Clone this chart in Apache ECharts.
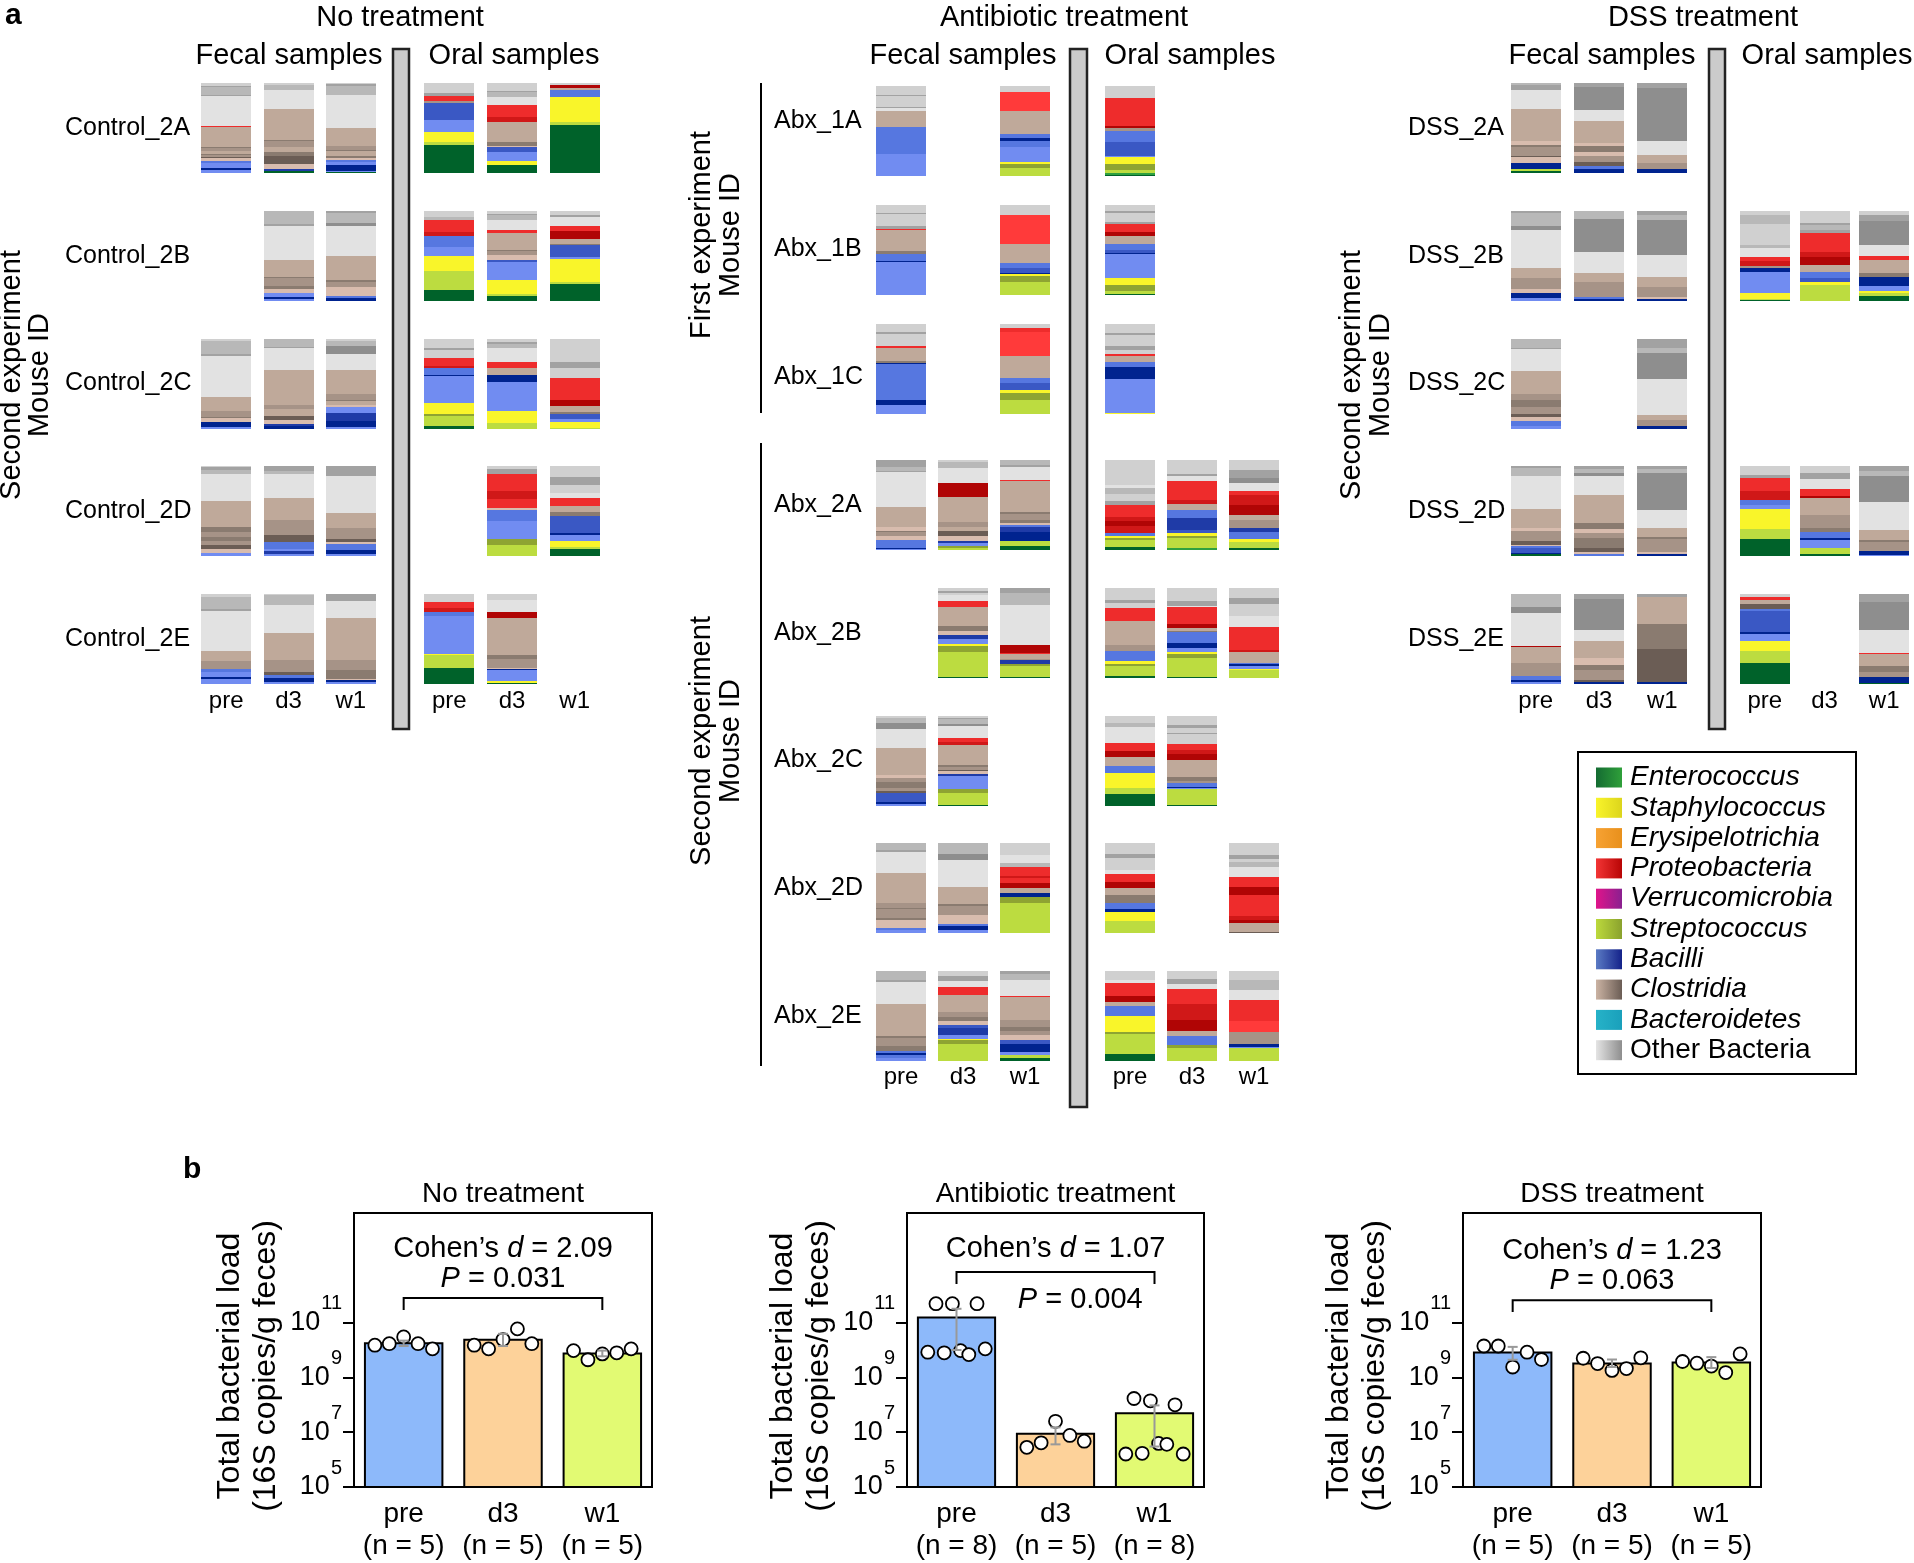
<!DOCTYPE html>
<html>
<head>
<meta charset="utf-8">
<script src="https://cdn.jsdelivr.net/npm/echarts@6/dist/echarts.min.js"></script>
<style>
  html, body { margin: 0; padding: 0; background: #fff; }
  #chart { width: 1914px; height: 1563px; }
</style>
</head>
<body>
<div id="chart"></div>
<script>
// ---- panel a: relative abundance per sample, bands listed top -> bottom (taxon+shade : percent) ----
const timepoints = ['pre', 'd3', 'w1'];

const controlMice = ['Control_2A', 'Control_2B', 'Control_2C', 'Control_2D', 'Control_2E'];
const controlFecal = [
  ['O1:3 O3:1.5 O2:8.5 O3:1 O0:33 P0:1 C1:22 C3:1.5 C2:3 C1:3 C3:1 C2:2 C4:2 C0:3 B1:2 B0:5 B4:3 B0:3',
   'O1:2 O2:5.5 O0:21 C1:34 C3:1 C2:6 C1:6 C3:4.5 C4:9 C0:5.5 B3:2 E0:2',
   'O1:1 O3:2 O2:10 O0:37 C1:20 C2:4.5 C3:1 C1:5 C3:2 C0:3 B1:2 B0:3 B4:7 B0:1 E0:1'],
  [null,
   'O2:14 O3:2 O0:38 C1:19 C3:1 C2:9 C3:3 C0:4.5 B0:4.5 B4:2 B0:2',
   'O3:2 O2:11 O4:3 O0:33 C1:26 C3:2 C2:6 C0:9.5 B1:2 B4:3.5'],
  ['O1:2 O2:15 O3:2 O0:45.5 C1:15.5 C2:6 C3:1 C0:5 B4:5.5 B0:2',
   'O2:9 O3:1 O0:24.5 C1:39 C2:4.5 C1:8 C4:4.5 C0:4.5 B3:2 B4:3.5',
   'O1:2 O2:5.5 O4:9 O0:18 C1:26.5 C2:6 C3:2 C1:3.5 C0:3 B0:6.5 B3:9 B4:6.5 B0:2'],
  ['O1:1 O3:3.5 O2:4 O0:30 C1:29 C3:5.5 C2:5.5 C3:4.5 C2:4.5 C4:4.5 C0:4.5 B0:3',
   'O3:5.5 O2:3.5 O0:26.5 C1:24.5 C2:16.5 C4:8 B1:8 B0:2 B3:3.5 B0:2',
   'O3:11 O0:41 C1:17 C2:12 C4:3.5 C0:2 B1:6.5 B4:4.5 B0:2'],
  ['O1:3.3 O2:13 O3:2 O0:44.5 C1:11 C2:9 B1:3.5 B0:5.5 B4:2 B0:5.5',
   'O1:1 O2:11 O0:31 C1:30 C2:13.5 C4:3.5 B1:3.5 B4:4.5 B0:2',
   'O3:8 O0:18 C1:46.5 C2:11 C3:10 C0:2 B4:2 B0:2']
];
const controlOral = [
  ['O1:11 O3:3 P0:5.5 C2:2 B2:19 B0:13 S0:11 T0:3.5 E0:31',
   'O1:9 O3:1 O2:5 O0:9 P0:13 P1:5.5 C1:22 C3:4.5 C0:1.5 B2:5 B0:10 S0:4.5 E0:9',
   'O1:2 P2:3.5 C1:2.5 B1:8 S0:27 T0:3.5 E0:53'],
  ['O1:6.5 O2:3 P0:13.5 P1:4.5 B1:12 B0:10 S0:16.5 T0:21 E0:12',
   'O1:3 O3:1 O2:5.5 O0:11 P0:3.5 C1:19 C3:1.5 C2:4 C0:5.5 B2:2 B0:20 S0:15.5 T0:2 E0:5.5',
   'O1:4.5 O3:2 O0:10 P0:5 P2:9 C1:5.5 C3:1 B2:13 B0:2 S0:25.5 T0:2 E0:19'],
  ['O1:10 O3:2 O1:9 P0:9 P1:2 B1:8 B4:1 B0:29 S0:13 T1:2 T0:11 E0:3',
   'O1:3 O3:2.5 O2:5 O0:14.5 P0:7.5 C1:7 B4:8 B0:32 S0:13.5 T0:6.5',
   'O1:25.5 O3:6.5 O1:11 P0:24.5 P2:6.5 C1:6.5 C3:1.5 B2:5.5 B4:1 B0:3 S0:6.5 T0:1'],
  [null,
   'O1:3.5 O3:5.5 P0:19 P1:8 P0:10.5 C0:2 B1:12 B0:20 T1:6.5 T0:12',
   'O1:12 O3:9 O1:9 O0:5.5 P0:9 C1:6.5 C3:4.5 B2:19 B4:2 B0:6.5 S0:6.5 T0:2 E0:8'],
  ['O1:9 P0:6.5 P1:4.5 B1:4.5 B0:42 S0:1 T0:14.5 E0:18',
   'O1:6.5 O0:13.5 P2:6.5 C1:41 C3:4.5 C2:9 C0:2 B4:1 B0:12 S0:2 E0:1',
   null]
];

const abxFirstMice = ['Abx_1A', 'Abx_1B', 'Abx_1C'];
const abxFirstFecal = [
  ['O1:10 O3:1 O1:12 O3:1.5 O0:3.5 C1:17 B1:30 B0:25', null,
   'O1:6.5 P3:21 C1:26 B1:3.5 B4:3.5 B1:6.5 B0:17 S0:2 T1:4.5 T0:9'],
  ['O1:8.5 O3:1 O1:13.5 O3:3 P0:1 C1:22.5 C3:3 B1:8 B4:1 B0:35.5', null,
   'O1:11 P3:32.5 C1:21 B1:5.5 B2:5 B4:1 S0:2.5 T1:6.5 T0:14.5'],
  ['O1:9 O3:2 O1:13.5 P0:2 C1:14 C3:3 B4:1 B1:40 B4:5 B0:10', null,
   'O1:4.5 P0:4.5 P3:26 C1:25 B1:5.5 B2:7 S0:3.5 T1:8 T0:15.5']
];
const abxFirstOral = [
  ['O1:13.5 P0:30 P2:3 C2:2.5 B1:12.5 B2:15.5 B0:1 S0:8 T1:6.5 T0:3.5 E1:2 E0:1', null, null],
  ['O1:6.5 O3:2 O1:10 O3:2 P0:9 P2:4.5 C1:9 B1:6.5 B2:3.5 B4:1 B0:26.5 S0:8 T1:6.5 T0:3.5 E0:1', null, null],
  ['O1:10 O3:2 O1:12.5 O3:4.5 O1:4.5 P0:2 C1:7 B1:5.5 B4:12.5 B0:38 S0:1', null, null]
];

const abxSecondMice = ['Abx_2A', 'Abx_2B', 'Abx_2C', 'Abx_2D', 'Abx_2E'];
const abxSecondFecal = [
  ['O3:7.5 O2:5 O3:1 O0:38 C1:22.5 C0:4.5 C3:1.5 C2:4 C0:4.5 B1:9 B4:1 B0:1',
   'O1:2 O2:6.5 O0:17 P2:14.5 C1:28 C2:5.5 C1:4.5 C4:5.5 C0:5.5 B3:2 B0:3.5 T1:2 T0:2',
   'O2:5.5 O3:1.5 O0:14.5 P0:1 C1:33.5 C3:2 C2:6.5 C3:3.5 C0:2 B1:2 B3:5.5 B4:9 T0:5.5 E0:4.5'],
  [null,
   'O1:3.5 O3:2 O1:2 O0:6.5 P0:6.5 C1:21 C3:5.5 C0:4.5 B3:4.5 B0:5.5 S0:2 T1:6.5 T0:28 E0:1',
   'O3:5.5 O2:13.5 O0:44.5 P2:8 P0:2 C1:4.5 C2:2 B3:4.5 T1:2 T0:12 E0:1'],
  ['O1:2 O2:6 O4:6.5 O0:21 C1:30 C0:3 C2:5 C3:6.5 C2:3 C4:3 B2:10 B4:2 B0:2',
   'O1:2 O3:1 O2:5.5 O4:2 O0:13.5 P0:4.5 P1:3.5 C1:22 C3:2 C2:3.5 C4:1 C0:3.5 B3:2 B0:14.5 T1:4.5 T0:13 E0:1',
   null],
  ['O2:8 O3:2 O0:23.5 C1:32.5 C2:5.5 C3:1 C2:10 C3:2 C0:9 B1:2 B0:3.5',
   'O2:12 O4:6.5 O0:30 C1:18 C3:2 C2:10.5 C0:9.5 B1:2 B4:4.5 B0:3.5',
   'O1:13.5 O0:9 O2:3.5 P0:10 P1:2 P0:6.5 P2:4.5 C1:5.5 B4:4.5 T1:6.5 T0:33.5'],
  ['O2:10 O3:2 O0:24.5 C1:34.5 C3:2 C2:9 C3:5.5 B1:2 B4:2 B1:3.5 B0:3.5',
   'O1:5.5 O3:5.5 O0:6.5 P0:9 C1:19 C2:5.5 C3:4.5 C0:3.5 B2:3.5 B3:7.5 B0:4.5 S0:1 T1:4.5 T0:19',
   'O3:3.5 O2:6.5 O0:18 P0:1 C1:25.5 C2:8.5 C3:3.5 C2:5.5 C0:5.5 B2:4.5 B4:8 B0:3.5 T0:3.5 E0:3.5']
];
const abxSecondOral = [
  ['O1:28 O0:3.5 O2:6.5 O1:8 O3:3.5 P0:13.5 P1:4.5 P2:5.5 P1:8 B1:3.5 S0:2 T1:2 T0:8 E0:3.5',
   'O1:15.5 O3:2 O0:5.5 P0:21.5 P1:3.5 C1:6.5 B1:9 B3:13.5 B2:3.5 S0:3.5 T1:2 T0:11 E1:2',
   'O1:11 O3:9 O4:5.5 O0:9 P0:4.5 P1:10 P2:11 C1:6.5 C2:8 B3:4.5 B1:8 S0:3.5 T0:6.5 E0:2'],
  ['O1:13.5 O3:3.5 O1:5.5 P0:14.5 C1:26.5 C2:6.5 B1:11 S0:3.5 T1:2 T0:11 E0:2',
   'O1:14.5 O3:5.5 O0:1 P0:18 P2:4.5 C1:3.5 C3:1 B1:12 B4:5.5 B0:4.5 S0:2 T1:4.5 T0:21 E0:1',
   'O1:11 O3:6.5 O1:13.5 O0:11 P0:25.5 P1:2 C1:12 B1:1 B4:2.5 B0:3 S0:1 T0:9'],
  ['O1:7.5 O2:4.5 O0:18 P0:9 P2:6.5 C1:10 B1:7.5 S0:16.5 T0:6.5 E0:13',
   'O1:10 O3:3.5 O1:5.5 O3:1 O1:11 P0:6.5 P1:4.5 P2:6.5 C1:19 C3:4.5 C2:2 B1:4.5 B4:1 B0:2 T0:17.5 E0:1',
   null],
  ['O1:12 O3:4.5 O1:13.5 O0:4.5 P0:9 P2:6.5 C1:8 C3:8 B1:6.5 B4:3.5 S0:10 T0:13.5',
   null,
   'O1:13.5 O3:4.5 O1:3.5 O2:4.5 O0:12 P0:11 P2:9 P0:22.5 P1:4.5 P2:3.5 C1:10 C4:1'],
  ['O1:10 O0:3.5 P0:14.5 P2:6.5 C1:4.5 B1:11 S0:17.5 T1:2 T0:21.5 E0:8',
   'O1:9 O3:5.5 O0:5.5 P0:17 P1:17 P2:12 C1:6 B1:10 T1:3.5 T0:14',
   'O1:10 O2:11 O0:11 P0:22.5 P3:13 C2:13 B4:3 B0:1.5 T0:14']
];

const dssMice = ['DSS_2A', 'DSS_2B', 'DSS_2C', 'DSS_2D', 'DSS_2E'];
const dssFecal = [
  ['O2:2 O3:5.5 O0:21 C1:34.5 C0:4.5 C3:3 C2:9 C4:2 C0:6.5 B4:6.5 T0:2 E0:2',
   'O3:4.5 O4:25.5 O0:12 C1:25 C0:3 C3:6.5 C0:4.5 C2:6.5 C4:4.5 B1:3.5 B4:4.5',
   'O3:5.5 O4:59 O0:15.5 C1:9 C2:6.5 B4:4.5'],
  ['O3:2 O2:14.5 O4:4.5 O0:42 C1:11 C2:12 C0:4.5 B4:5.5 B0:3.5',
   'O2:9 O4:36.5 O0:23.5 C1:10 C2:16.5 B1:2 B4:2',
   'O3:4.5 O2:5.5 O4:39 O0:24.5 C1:11 C2:11 C0:2 B4:2.5'],
  ['O2:10 O3:1 O0:24.5 C1:26 C2:6.5 C3:8 C2:8 C4:3.5 C0:4.5 B1:5.5 B0:3',
   null,
   'O3:10 O2:5.5 O4:29 O0:40 C1:5.5 C2:6.5 B4:3'],
  ['O3:2 O2:9 O0:36.5 C1:21 C0:3.5 C2:11 C4:3.5 C0:2 B1:2 B2:5.5 B4:1 E0:2',
   'O3:3.5 O2:4.5 O4:3.5 O0:21 C1:31 C3:6.5 C0:4.5 C2:5.5 C3:11 C4:4.5 C0:2 B1:2',
   'O3:3.5 O2:4.5 O4:41 O0:19 C1:11 C3:2 C2:14.5 C0:2 B4:2'],
  ['O2:14.5 O4:6.5 O0:36.5 P2:1 C1:17.5 C2:14.5 B1:4.5 B4:2 B0:2',
   'O3:5.5 O4:34.5 O0:12 C1:19 C0:8 C3:5.5 C2:11 C4:2 B4:2',
   'O3:3.5 C1:30 C3:28 C4:37 B4:2']
];
const dssOral = [
  [null, null, null],
  ['O1:4.5 O2:10 O1:23.5 O2:3.5 O0:10 P0:4.5 P1:5.5 C2:2 B4:4.5 B0:23.5 S0:6.5 T0:1 E0:1',
   'O1:13.5 O3:2 O2:5.5 O3:3.5 P0:21 P1:5.5 P2:9 C1:8 B1:6.5 B2:4.5 S0:3.5 T0:18',
   'O1:4.5 O3:6.5 O4:27 O0:12 P0:4.5 C1:14.5 C3:4.5 B4:10 B0:5.5 S0:2 T0:3.5 E0:5.5'],
  [null, null, null],
  ['O1:10 O3:3.5 P0:14.5 P1:10 B1:5.5 B0:4.5 S0:22 T0:11 E0:19',
   'O1:8 O3:6.5 O0:11 P0:8 P2:2 C1:19 C2:13.5 C3:5.5 B1:6.5 B4:2 B0:9 T0:6.5 E0:2',
   'O3:5.5 O2:5.5 O4:29 O0:31 C1:11 C3:2 C2:10 B4:4.5 B0:1'],
  ['O1:3.5 P0:3.5 C1:4.5 C4:5.5 B1:2 B2:23.5 B4:2 B0:8 S0:11 T0:13.5 E0:23.5',
   null,
   'O3:9 O4:31 O0:25.5 P0:1 C1:13.5 C3:6.5 C2:5.5 B4:6.5 E0:1']
];

const legendTaxa = ['Enterococcus', 'Staphylococcus', 'Erysipelotrichia', 'Proteobacteria',
  'Verrucomicrobia', 'Streptococcus', 'Bacilli', 'Clostridia', 'Bacteroidetes', 'Other Bacteria'];

// ---- panel b: total bacterial load (16S copies / g feces) ----
const loadGroups = ['No treatment', 'Antibiotic treatment', 'DSS treatment'];
const loadCategories = [
  ['pre\n(n = 5)', 'd3\n(n = 5)', 'w1\n(n = 5)'],
  ['pre\n(n = 8)', 'd3\n(n = 5)', 'w1\n(n = 8)'],
  ['pre\n(n = 5)', 'd3\n(n = 5)', 'w1\n(n = 5)']
];
const loadMeans = [
  [1.9e10, 2.6e10, 8.1e9],
  [1.66e11, 9.5e6, 5.4e7],
  [8.9e9, 3.5e9, 3.8e9]
];
const loadPoints = [
  [[1.5e10, 1.7e10, 3.0e10, 1.7e10, 1.1e10],
   [1.5e10, 1.1e10, 2.4e10, 5.9e10, 1.7e10],
   [9.5e9, 4.4e9, 7.2e9, 7.9e9, 1.1e10]],
  [[8.3e9, 4.9e11, 7.9e9, 4.9e11, 9.5e9, 6.8e9, 4.9e11, 1.1e10],
   [2.8e6, 4.1e6, 2.5e7, 7.6e6, 4.7e6],
   [1.6e6, 1.7e8, 1.7e6, 1.4e8, 3.9e6, 3.6e6, 1.0e8, 1.6e6]],
  [[1.4e10, 1.4e10, 2.4e9, 8.3e9, 4.5e9],
   [5.0e9, 3.2e9, 1.8e9, 2.1e9, 5.2e9],
   [3.8e9, 3.3e9, 2.6e9, 1.5e9, 7.2e9]]
];
const loadErrLow = [
  [1.4e10, 1.4e10, 5.9e9],
  [1.0e10, 3.6e6, 3.0e6],
  [4.4e9, 2.4e9, 2.2e9]
];
const loadErrHigh = [
  [2.2e10, 3.9e10, 9.5e9],
  [3.2e11, 1.5e7, 9.5e7],
  [1.3e10, 4.5e9, 5.5e9]
];
const cohensD = ['2.09', '1.07', '1.23'];
const pValues = ['0.031', '0.004', '0.063'];

// ---- styles ----
const FONT = '"Liberation Sans", Arial, Helvetica, sans-serif';
const SHADE = {
  O0: '#e2e2e2', O1: '#d0d0d0', O2: '#b8b8b8', O3: '#a2a2a2', O4: '#8e8e8e',
  C0: '#d8bcae', C1: '#bfa99a', C2: '#a69387', C3: '#8a7b70', C4: '#6b5d55',
  B0: '#718cf1', B1: '#5677e0', B2: '#3a58c4', B3: '#1f3ba7', B4: '#00238f',
  P0: '#ee2c2c', P1: '#d01818', P2: '#b00505', P3: '#ff3a3a',
  S0: '#f9f52a', T0: '#bcdc40', T1: '#8ea432', E0: '#00622a', E1: '#2ea040'
};
const LEGEND_GRAD = [
  ['#146b32', '#2fa03a'], ['#f9f42a', '#dcd51c'], ['#f7a233', '#e8901c'], ['#f33535', '#b80505'],
  ['#e0148a', '#8a2090'], ['#bcd93c', '#8aa22e'], ['#5b7bc4', '#14228a'], ['#cbb3a3', '#6b5d55'],
  ['#26b2c8', '#1aa0bb'], ['#e4e4e4', '#8e8e8e']
];
const BAR_COLORS = ['#8db9fa', '#fdd29a', '#e2fa73'];

function parseBands(s) {
  return s.trim().split(/\s+/).map(t => { const p = t.split(':'); return [p[0], +p[1]]; });
}

const grids = [];
const xAxes = [];
const yAxes = [];
const series = [];

// one grid per group half; each sample drawn as a 50x90 stacked column centred on its cell
function stackPanel(box, mice, table, opts) {
  const gi = grids.length;
  grids.push({ left: box[0], top: box[1], width: box[2], height: box[3] });
  xAxes.push({
    type: 'category', gridIndex: gi, data: timepoints,
    axisLine: { show: false }, axisTick: { show: false },
    axisLabel: { show: !!opts.xLabels, interval: 0, margin: opts.xMargin || 0, fontSize: 24, fontFamily: FONT, color: '#000' }
  });
  const shifts = opts.labelShift || [];
  const rich = {};
  mice.forEach((m, i) => {
    const s = shifts[i] || 0;
    rich['r' + i] = { fontSize: 25, fontFamily: FONT, color: '#000', padding: s < 0 ? [0, 0, -2 * s, 0] : [2 * s, 0, 0, 0] };
  });
  yAxes.push({
    type: 'category', gridIndex: gi, data: mice, inverse: true,
    axisLine: { show: false }, axisTick: { show: false },
    axisLabel: { show: !!opts.yLabels, interval: 0, align: 'left', margin: opts.yMargin || 0,
      formatter: (v, i) => '{r' + i + '|' + v + '}', rich }
  });
  const items = [];
  table.forEach((row, r) => row.forEach((s, c) => { if (s) items.push({ c, r, bands: parseBands(s) }); }));
  series.push({
    type: 'custom', xAxisIndex: gi, yAxisIndex: gi,
    data: items.map(d => [d.c, d.r]),
    renderItem: (params, api) => {
      const item = items[params.dataIndex];
      const ctr = api.coord([api.value(0), api.value(1)]);
      const w = 50, h = 90;
      const x0 = Math.round(ctr[0] - w / 2), y0 = Math.round(ctr[1] - h / 2);
      const total = item.bands.reduce((a, b) => a + b[1], 0);
      let acc = 0;
      const children = [];
      item.bands.forEach(([k, v]) => {
        const ya = y0 + Math.round(acc / total * h);
        acc += v;
        const yb = y0 + Math.round(acc / total * h);
        if (yb > ya) children.push({ type: 'rect', shape: { x: x0, y: ya, width: w, height: yb - ya }, style: { fill: SHADE[k] } });
      });
      return { type: 'group', children };
    }
  });
}

stackPanel([195, 64, 187, 639], controlMice, controlFecal, { yLabels: true, yMargin: 130, xLabels: true, xMargin: -14 });
stackPanel([418, 64, 188, 639], controlMice, controlOral, { xLabels: true, xMargin: -14 });
stackPanel([870, 71.5, 186, 357], abxFirstMice, abxFirstFecal, { yLabels: true, yMargin: 96, labelShift: [-10, -1, 8] });
stackPanel([1099, 71.5, 186, 357], abxFirstMice, abxFirstOral, {});
stackPanel([870, 441, 186, 639], abxSecondMice, abxSecondFecal, { yLabels: true, yMargin: 96, xLabels: true, xMargin: -15 });
stackPanel([1099, 441, 186, 639], abxSecondMice, abxSecondOral, { xLabels: true, xMargin: -15 });
stackPanel([1504, 64, 190, 639], dssMice, dssFecal, { yLabels: true, yMargin: 96, xLabels: true, xMargin: -14 });
stackPanel([1735, 64, 186, 639], dssMice, dssOral, { xLabels: true, xMargin: -14 });

// ---- panel b grids ----
const loadBoxes = [[354, 1213, 298, 274], [907, 1213, 297, 274], [1463, 1213, 298, 274]];
const annotLayout = [
  { leg: 11.46, br: 11.9, cohen: 13.69, p: 12.59, px: 1 },
  { leg: 12.41, br: 12.85, cohen: 13.69, p: 11.82, px: 1.25 },
  { leg: 11.39, br: 11.82, cohen: 13.61, p: 12.52, px: 1 }
];

loadBoxes.forEach((box, k) => {
  const gi = grids.length;
  grids.push({ left: box[0], top: box[1], width: box[2], height: box[3], show: true, borderColor: '#000', borderWidth: 2, backgroundColor: 'transparent' });
  const xCat = xAxes.length;
  xAxes.push({
    type: 'category', gridIndex: gi, data: loadCategories[k],
    axisLine: { onZero: false, lineStyle: { color: '#000', width: 2 } },
    axisTick: { alignWithLabel: true, length: 16, lineStyle: { color: '#000', width: 2 } },
    axisLabel: { interval: 0, fontSize: 28, lineHeight: 32, fontFamily: FONT, color: '#000', margin: 11 }
  });
  const xVal = xAxes.length;
  xAxes.push({ type: 'value', gridIndex: gi, min: -0.5, max: 2.5, show: false, axisLine: { onZero: false } });
  const yi = yAxes.length;
  yAxes.push({
    type: 'value', gridIndex: gi, min: 5, max: 15, interval: 2,
    name: 'Total bacterial load\n(16S copies/g feces)', nameLocation: 'middle', nameRotate: 90, nameGap: 70,
    nameTextStyle: { fontSize: 32, lineHeight: 36, fontFamily: FONT, color: '#000', padding: [0, 32, 0, 0] },
    splitLine: { show: false },
    axisLine: { show: true, onZero: false, lineStyle: { color: '#000', width: 2 } },
    axisTick: { show: true, length: 11, customValues: [5, 7, 9, 11], lineStyle: { color: '#000', width: 2 } },
    axisLabel: {
      customValues: [5, 7, 9, 11], margin: 12,
      formatter: v => '{b|10}{s|' + v + '}',
      rich: {
        b: { fontSize: 27, fontFamily: FONT, color: '#000' },
        s: { fontSize: 20, fontFamily: FONT, color: '#000', padding: [0, 0, 38, 1] }
      }
    }
  });
  series.push({
    type: 'bar', xAxisIndex: xCat, yAxisIndex: yi, barWidth: '80%', z: 2,
    data: loadMeans[k].map((m, i) => ({ value: Math.log10(m), itemStyle: { color: BAR_COLORS[i] } })),
    itemStyle: { borderColor: '#000', borderWidth: 2 }
  });
  const pts = [];
  loadPoints[k].forEach((vals, i) => {
    const n = vals.length;
    vals.forEach((v, j) => pts.push([i - 0.29 + 0.58 * j / (n - 1), Math.log10(v)]));
  });
  series.push({
    type: 'scatter', xAxisIndex: xVal, yAxisIndex: yi, z: 3, symbol: 'circle', symbolSize: 13,
    data: pts, itemStyle: { color: '#fff', borderColor: '#000', borderWidth: 1.8, opacity: 1 }
  });
  series.push({
    type: 'custom', xAxisIndex: xVal, yAxisIndex: yi, z: 4,
    data: loadErrLow[k].map((lo, i) => [i, Math.log10(lo), Math.log10(loadErrHigh[k][i])]),
    renderItem: (params, api) => {
      const lo = api.coord([api.value(0), api.value(1)]);
      const hi = api.coord([api.value(0), api.value(2)]);
      const st = { stroke: '#999', lineWidth: 2 };
      return { type: 'group', children: [
        { type: 'line', shape: { x1: lo[0], y1: lo[1], x2: hi[0], y2: hi[1] }, style: st },
        { type: 'line', shape: { x1: lo[0] - 5, y1: lo[1], x2: lo[0] + 5, y2: lo[1] }, style: st },
        { type: 'line', shape: { x1: hi[0] - 5, y1: hi[1], x2: hi[0] + 5, y2: hi[1] }, style: st }
      ] };
    }
  });
  const L = annotLayout[k];
  series.push({
    type: 'custom', xAxisIndex: xVal, yAxisIndex: yi, z: 5, data: [[0]],
    renderItem: (params, api) => {
      const a = api.coord([0, L.leg]), b = api.coord([0, L.br]), c = api.coord([2, L.br]), d = api.coord([2, L.leg]);
      const t1 = api.coord([1, L.cohen]), t2 = api.coord([L.px, L.p]);
      const base = { fontSize: 29, fontFamily: FONT, fill: '#000' };
      const rich = { i: { fontSize: 29, fontFamily: FONT, fontStyle: 'italic', fill: '#000' } };
      return { type: 'group', children: [
        { type: 'polyline', shape: { points: [a, b, c, d] }, style: { stroke: '#000', lineWidth: 2, fill: null } },
        { type: 'text', x: t1[0], y: t1[1], style: Object.assign({
            text: 'Cohen\u2019s {i|d} = ' + cohensD[k], align: 'center', verticalAlign: 'middle', rich }, base) },
        { type: 'text', x: t2[0], y: t2[1], style: Object.assign({
            text: '{i|P} = ' + pValues[k], align: 'center', verticalAlign: 'middle', rich }, base) }
      ] };
    }
  });
});

// ---- free text, separators and legend ----
function txt(text, x, y, size, extra) {
  return Object.assign({ type: 'text', x, y, style: { text, fontSize: size, fontFamily: FONT, fill: '#000', textAlign: 'center', textVerticalAlign: 'middle' } }, extra || {});
}
function vtxt(text, x, y, size) {
  return { type: 'text', x, y, rotation: Math.PI / 2, style: { text, fontSize: size, fontFamily: FONT, fill: '#000', textAlign: 'center', textVerticalAlign: 'middle' } };
}
const graphics = [
  { type: 'text', x: 5, y: 16, style: { text: 'a', fontSize: 30, fontWeight: 'bold', fontFamily: FONT, fill: '#000', textVerticalAlign: 'middle' } },
  { type: 'text', x: 183, y: 1170, style: { text: 'b', fontSize: 30, fontWeight: 'bold', fontFamily: FONT, fill: '#000', textVerticalAlign: 'middle' } },
  txt('No treatment', 400, 18, 29), txt('Fecal samples', 289, 56, 29), txt('Oral samples', 514, 56, 29),
  txt('Antibiotic treatment', 1064, 18, 29), txt('Fecal samples', 963, 56, 29), txt('Oral samples', 1190, 56, 29),
  txt('DSS treatment', 1703, 18, 29), txt('Fecal samples', 1602, 56, 29), txt('Oral samples', 1827, 56, 29),
  vtxt('Second experiment', 12, 375, 29), vtxt('Mouse ID', 40, 375, 29),
  vtxt('First experiment', 702, 235, 29), vtxt('Mouse ID', 731, 235, 29),
  vtxt('Second experiment', 702, 741, 29), vtxt('Mouse ID', 731, 741, 29),
  vtxt('Second experiment', 1352, 375, 29), vtxt('Mouse ID', 1381, 375, 29),
  { type: 'line', shape: { x1: 761, y1: 83, x2: 761, y2: 413 }, style: { stroke: '#000', lineWidth: 2 } },
  { type: 'line', shape: { x1: 761, y1: 443, x2: 761, y2: 1066 }, style: { stroke: '#000', lineWidth: 2 } },
  { type: 'rect', shape: { x: 393, y: 49, width: 16, height: 680 }, style: { fill: '#cbcbcb', stroke: '#222', lineWidth: 2.5 } },
  { type: 'rect', shape: { x: 1070, y: 49, width: 17, height: 1058 }, style: { fill: '#cbcbcb', stroke: '#222', lineWidth: 2.5 } },
  { type: 'rect', shape: { x: 1709, y: 49, width: 16, height: 680 }, style: { fill: '#cbcbcb', stroke: '#222', lineWidth: 2.5 } },
  { type: 'rect', shape: { x: 1578, y: 752, width: 278, height: 322 }, style: { fill: '#fff', stroke: '#000', lineWidth: 2 } }
];
loadBoxes.forEach((box, k) => graphics.push(txt(loadGroups[k], box[0] + box[2] / 2, 1194, 28)));
legendTaxa.forEach((name, i) => {
  const cy = 777.5 + i * 30.3;
  graphics.push({ type: 'rect', shape: { x: 1596, y: cy - 10, width: 26, height: 20 },
    style: { fill: new echarts.graphic.LinearGradient(0, 0, 1, 0, [{ offset: 0, color: LEGEND_GRAD[i][0] }, { offset: 1, color: LEGEND_GRAD[i][1] }]) } });
  graphics.push({ type: 'text', x: 1630, y: cy, style: { text: name, fontSize: 28, fontFamily: FONT,
    fontStyle: name === 'Other Bacteria' ? 'normal' : 'italic', fill: '#000', textAlign: 'left', textVerticalAlign: 'middle' } });
});

const chart = echarts.init(document.getElementById('chart'));
chart.setOption({
  animation: false,
  backgroundColor: '#fff',
  grid: grids,
  xAxis: xAxes,
  yAxis: yAxes,
  series: series,
  graphic: graphics
});
</script>
</body>
</html>
